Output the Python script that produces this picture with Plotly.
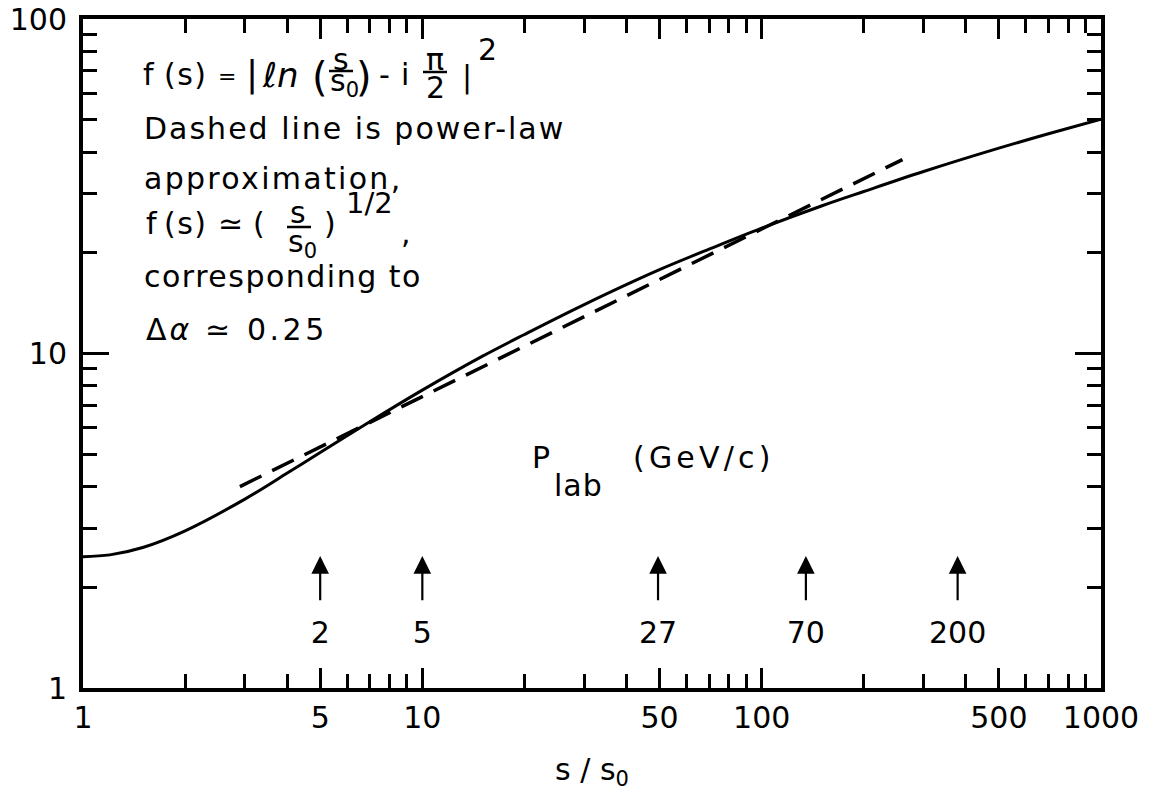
import math
import plotly.graph_objects as go

# ---------------- data ----------------
S_SOLID = [1, 1.2, 1.5, 2, 3, 4, 5, 7, 10, 15, 20, 30, 50, 70, 100, 150, 200, 300, 500, 700, 1000]
F_SOLID = [2.47, 2.50, 2.63, 2.95, 3.67, 4.39, 5.06, 6.25, 7.77, 9.80, 11.4, 14.0, 17.8,
           20.5, 23.7, 27.6, 30.5, 35.0, 41.1, 45.4, 50.2]

S_DASH = [2.9, 260]
F_DASH = [4.0, 38.0]

ARROW_S = [5, 10, 49.5, 135, 378]
PLAB_LABELS = ["2", "5", "27", "70", "200"]

XTICK_VALS = [1, 5, 10, 50, 100, 500, 1000]
XTICK_TEXT = ["1", "5", "10", "50", "100", "500", "1000"]
XMINOR = [2, 3, 4, 6, 7, 8, 9, 20, 30, 40, 60, 70, 80, 90, 200, 300, 400, 600, 700, 800, 900]
YTICK_VALS = [1, 10, 100]
YTICK_TEXT = ["1", "10", "100"]
YMINOR = [2, 3, 4, 5, 6, 7, 8, 9, 20, 30, 40, 50, 60, 70, 80, 90]

# ---------------- style ----------------
FONT = "DejaVu Sans"
FS = 30
ARROW_TIP_Y = 2.48
ARROW_TAIL_Y = 1.81
LABEL_Y = 1.44

W, H = 1163, 799
PAGE_OFF = 8                      # body margin of the html page
# plot area in picture pixels
L, R, T, B = 83, 1101, 19, 688

fig = go.Figure()

fig.add_trace(go.Scatter(x=S_SOLID, y=F_SOLID, mode="lines", line=dict(color="black", width=3, shape="spline"),
                         showlegend=False, hoverinfo="skip"))
fig.add_trace(go.Scatter(x=S_DASH, y=F_DASH, mode="lines", line=dict(color="black", width=3.5, dash="24px,12px"),
                         showlegend=False, hoverinfo="skip"))
fig.add_trace(go.Scatter(x=ARROW_S, y=[LABEL_Y] * len(ARROW_S), mode="text", text=PLAB_LABELS,
                         textfont=dict(family=FONT, size=FS, color="black"), textposition="middle center",
                         showlegend=False, hoverinfo="skip"))

for s in ARROW_S:
    fig.add_annotation(x=math.log10(s), y=math.log10(ARROW_TIP_Y), ax=math.log10(s), ay=math.log10(ARROW_TAIL_Y),
                       xref="x", yref="y", axref="x", ayref="y", showarrow=True, arrowhead=2,
                       arrowsize=1.6, arrowwidth=2.2, arrowcolor="black", text="")


def px(x):
    return (x - L) / (R - L)


def py(y):
    return (B - y) / (B - T)


def spaced(s, ls):
    return '<span style="letter-spacing:%.1fpx">%s</span>' % (ls, s)


def txt(x, y, s, xanchor="left", size=FS):
    fig.add_annotation(xref="paper", yref="paper", x=px(x), y=py(y), text=s, showarrow=False,
                       xanchor=xanchor, yanchor="middle", borderpad=0,
                       font=dict(family=FONT, size=size, color="black"))


def bar(x0, x1, y):
    fig.add_shape(type="line", xref="paper", yref="paper", x0=px(x0), x1=px(x1), y0=py(y), y1=py(y),
                  line=dict(color="black", width=2.5))


# line 1: f(s) = | ln(s/s0) - i pi/2 |^2
c1 = 75
txt(142, c1, "f")
txt(163, c1, spaced("(s)", 1.5))
txt(227, c1 + 1, "=", "center", 22)
txt(252, c1 - 1, "|", "center", 36)
txt(261, c1, "<i>ℓn</i>", "left", 34)
txt(320, c1 + 2, "(", "center", 40)
txt(341, 60, "s", "center")
bar(329, 353, 71)
txt(344, 82, "s<sub>0</sub>", "center")
txt(364, c1 + 2, ")", "center", 40)
txt(384, c1, "-", "center")
txt(405, c1, "i", "center")
txt(435, 60, "π", "center")
bar(423, 447, 72)
txt(435, 88, "2", "center")
txt(467, c1 + 2, "|", "center")
txt(487, 50, "2", "center")

# text lines
txt(143, 129, spaced("Dashed line is power-law", 2.0))
txt(143, 178, spaced("approximation,", 2.3))
c4 = 224
txt(145, c4, "f")
txt(163, c4, spaced("(s)", 1.5))
txt(230, c4, "≃", "center")
txt(259, c4, "(", "center")
txt(298, 212, "s", "center")
bar(287, 311, 227)
txt(302, 244, "s<sub>0</sub>", "center")
txt(330, c4, ")", "center")
txt(369, 203, "1/2", "center", 29)
txt(406, 232, ",", "center")
txt(143, 276, spaced("corresponding to", 1.5))
txt(145, 329, spaced("Δ<i>α</i>", 3))
txt(217, 329, "≃", "center")
txt(246, 329, spaced("0.25", 3.5))

# P_lab (GeV/c)
txt(531, 457, "P")
txt(553, 486, spaced("lab", 1))
txt(632, 457, spaced("(GeV/c)", 4.2))

axis_common = dict(
    type="log", showline=True, linecolor="black", linewidth=4, mirror="allticks",
    ticks="inside", tickcolor="black", tickwidth=2.5, showgrid=False, zeroline=False,
    tickfont=dict(family=FONT, size=FS, color="black"), tickmode="array", ticklabeloverflow="allow",
    automargin=False,
)

fig.update_xaxes(**axis_common, range=[0, 3], tickvals=XTICK_VALS, ticktext=XTICK_TEXT, ticklen=20,
                 ticklabelstandoff=0,
                 minor=dict(tickmode="array", tickvals=XMINOR, ticks="inside", ticklen=14, tickwidth=2.5,
                            tickcolor="black", showgrid=False),
                 title=dict(text="s / s<sub>0</sub>", font=dict(family=FONT, size=FS, color="black"), standoff=26))
fig.update_yaxes(**axis_common, range=[0, 2], tickvals=YTICK_VALS, ticktext=YTICK_TEXT, ticklen=26,
                 ticklabelstandoff=6,
                 minor=dict(tickmode="array", tickvals=YMINOR, ticks="inside", ticklen=14, tickwidth=2.5,
                            tickcolor="black", showgrid=False))

fig.update_layout(width=W, height=H,
                  margin=dict(l=L - PAGE_OFF, r=W - (R - PAGE_OFF), t=T - PAGE_OFF, b=H - (B - PAGE_OFF)),
                  paper_bgcolor="white", plot_bgcolor="white", showlegend=False,
                  font=dict(family=FONT, color="black"))

fig.write_html("out.html")
